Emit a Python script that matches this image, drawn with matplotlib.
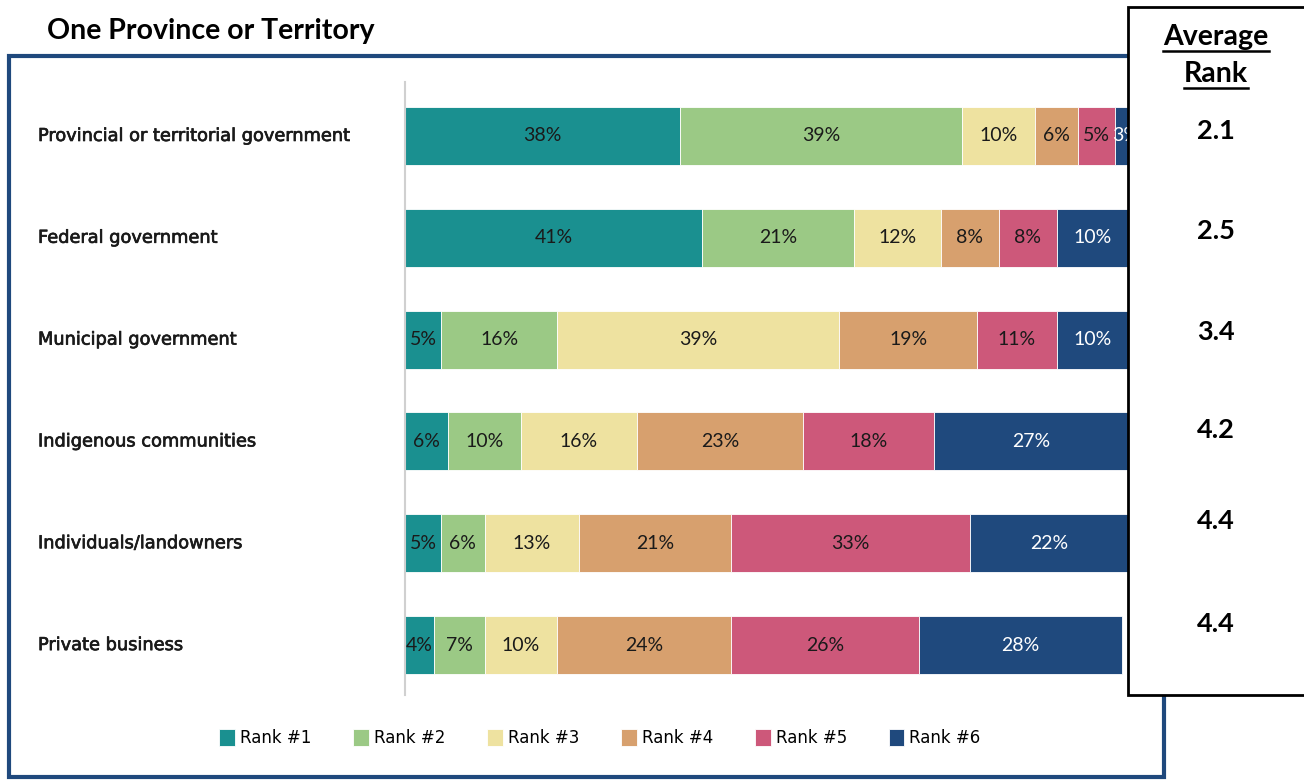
import numpy as np
import matplotlib
matplotlib.use("Agg")
import matplotlib.pyplot as plt
import matplotlib.patheffects as pe
from matplotlib.patches import Rectangle
from matplotlib.lines import Line2D
from matplotlib.transforms import blended_transform_factory

categories = [
    "Provincial or territorial government",
    "Federal government",
    "Municipal government",
    "Indigenous communities",
    "Individuals/landowners",
    "Private business",
]
rank_labels = ["Rank #1", "Rank #2", "Rank #3", "Rank #4", "Rank #5", "Rank #6"]

# share of respondents per rank (columns = rank 1..6)
rank1 = [38, 41, 5, 6, 5, 4]
rank2 = [39, 21, 16, 10, 6, 7]
rank3 = [10, 12, 39, 16, 13, 10]
rank4 = [6, 8, 19, 23, 21, 24]
rank5 = [5, 8, 11, 18, 33, 26]
rank6 = [3, 10, 10, 27, 22, 28]
avg_rank = [2.1, 2.5, 3.4, 4.2, 4.4, 4.4]

colors = ["#1A9090", "#9BC985", "#EEE2A0", "#D7A06E", "#CD587A", "#1F497D"]
text_colors = ["#1a1a1a"] * 5 + ["white"]

W, H = 1304, 781
fig = plt.figure(figsize=(W / 100, H / 100), dpi=100)

def fx(px):
    return px / W

def fy(py):
    return 1 - py / H

ax = fig.add_axes([fx(405), fy(695), fx(1129) - fx(405), fy(82) - fy(695)])

series = [rank1, rank2, rank3, rank4, rank5, rank6]
y = np.arange(len(categories))
left = np.zeros(len(categories))
for i, vals in enumerate(series):
    vals = np.array(vals, dtype=float)
    ax.barh(y, vals, left=left, height=0.57, color=colors[i], label=rank_labels[i],
            edgecolor="white", linewidth=0.6)
    for j, v in enumerate(vals):
        ax.text(left[j] + v / 2, y[j], f"{int(v)}%", ha="center", va="center",
                fontsize=14, color=text_colors[i], family="Lato")
    left += vals

ax.set_xlim(0, 100)
ax.set_ylim(5.49, -0.53)
ax.set_xticks([])
ax.set_yticks([])
for s in ["top", "right", "bottom"]:
    ax.spines[s].set_visible(False)
ax.spines["left"].set_color("#d0d0d0")
ax.spines["left"].set_linewidth(1.5)

# category names, left aligned in the frame
lab_tr = blended_transform_factory(fig.transFigure, ax.transData)
for j, name in enumerate(categories):
    ax.text(fx(38), y[j], name, transform=lab_tr, ha="left", va="center",
            fontsize=12.8, color="#1a1a1a", family="DejaVu Sans",
            path_effects=[pe.withStroke(linewidth=0.5, foreground="#1a1a1a")])

# legend along the bottom
leg = fig.legend(loc="center", bbox_to_anchor=(fx(600), fy(738)), ncol=6,
                 frameon=False, prop={"family": "DejaVu Sans", "size": 12},
                 handlelength=0.95, handleheight=1.2, handletextpad=0.3,
                 columnspacing=2.5)

# blue frame around the chart
fig.add_artist(Rectangle((fx(9), fy(777)), fx(1164) - fx(9), fy(56) - fy(777),
                         transform=fig.transFigure, fill=False,
                         edgecolor="#1F497D", linewidth=3, zorder=4))

fig.text(fx(47), fy(31), "One Province or Territory", fontsize=20.5,
         fontweight="bold", family="Lato", va="center", ha="left")

# average rank panel on the right
fig.add_artist(Rectangle((fx(1128), fy(695)), fx(1320) - fx(1128), fy(7) - fy(695),
                         transform=fig.transFigure, facecolor="white",
                         edgecolor="black", linewidth=2, zorder=5))

heads = []
for word, py in [("Average", 37), ("Rank", 74)]:
    t = fig.text(fx(1216), fy(py), word, fontsize=20.5, fontweight="bold",
                 family="Lato", ha="center", va="center", zorder=6)
    heads.append(t)

fig.canvas.draw()
renderer = fig.canvas.get_renderer()
for t in heads:
    bb = t.get_window_extent(renderer).transformed(fig.transFigure.inverted())
    yl = bb.y0 - 1 / H
    fig.add_artist(Line2D([bb.x0, bb.x1], [yl, yl], transform=fig.transFigure,
                          color="black", linewidth=1.8, zorder=6))

# rank averages sit a little above each bar row
nudge = [5, 7, 8, 11, 22, 21]
for j, v in enumerate(avg_rank):
    _, ydisp = ax.transData.transform((0, y[j]))
    yf = fig.transFigure.inverted().transform((0, ydisp))[1]
    fig.text(fx(1216), yf + nudge[j] / H, f"{v:.1f}", fontsize=19.5,
             fontweight="bold", family="Lato", ha="center", va="center", zorder=6)

fig.savefig("out.png", dpi=100)
